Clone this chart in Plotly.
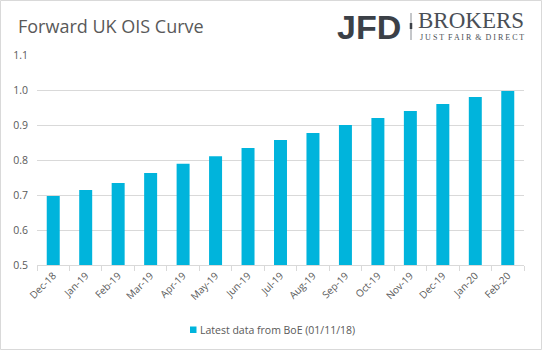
import plotly.graph_objects as go

categories = ["Dec-18", "Jan-19", "Feb-19", "Mar-19", "Apr-19", "May-19", "Jun-19",
              "Jul-19", "Aug-19", "Sep-19", "Oct-19", "Nov-19", "Dec-19", "Jan-20", "Feb-20"]
values = [0.697, 0.714, 0.734, 0.763, 0.789, 0.811, 0.834,
          0.857, 0.877, 0.900, 0.920, 0.940, 0.960, 0.980, 0.997]
series_name = "Latest data from BoE (01/11/18)"
bar_color = "#00B4DC"

W, H = 543, 351
ML, MR, MT, MB = 37, 19, 55, 86
PW, PH = W - ML - MR, H - MT - MB

def px_x(x):
    return (x - ML) / PW

def px_y(y):
    return (H - MB - y) / PH

fig = go.Figure()
fig.add_trace(go.Bar(x=categories, y=values, name=series_name, showlegend=False,
                     marker=dict(color=bar_color, line=dict(width=0))))

fig.update_layout(
    width=W, height=H,
    margin=dict(l=ML, r=MR, t=MT, b=MB),
    paper_bgcolor="white", plot_bgcolor="white",
    bargap=0.6,
    font=dict(family="Open Sans, sans-serif", color="#595959"),
    showlegend=False,
    xaxis=dict(type="category", showgrid=False, showline=True, linecolor="#d9d9d9", linewidth=1,
               ticks="outside", tickson="boundaries", ticklen=5, tickcolor="#d9d9d9",
               tickangle=-45, tickfont=dict(size=10, color="#595959")),
    yaxis=dict(range=[0.5, 1.1], dtick=0.1, tickformat=".1f", showgrid=True,
               gridcolor="#d9d9d9", gridwidth=1, zeroline=False, showline=False,
               tickfont=dict(size=10.5, color="#595959"), ticklabelstandoff=8),
    shapes=[dict(type="rect", xref="paper", yref="paper",
                 x0=px_x(0.5), x1=px_x(541.5), y0=px_y(349.5), y1=px_y(0.5),
                 line=dict(color="#d9d9d9", width=1), fillcolor="rgba(0,0,0,0)", layer="below"),
            # legend swatch
            dict(type="rect", xref="paper", yref="paper",
                 x0=px_x(190), x1=px_x(196.5), y0=px_y(333), y1=px_y(326.5),
                 line=dict(width=0), fillcolor=bar_color),
            # logo separator
            dict(type="line", xref="paper", yref="paper",
                 x0=px_x(411), x1=px_x(411), y0=px_y(13), y1=px_y(40),
                 line=dict(color="#8a8e94", width=1)),
            dict(type="line", xref="paper", yref="paper",
                 x0=px_x(411), x1=px_x(411), y0=px_y(23), y1=px_y(29),
                 line=dict(color="#3b4047", width=2.5))],
    annotations=[
        dict(text="Forward UK OIS Curve", xref="paper", yref="paper", x=px_x(16), y=px_y(26),
             xanchor="left", yanchor="middle", showarrow=False,
             font=dict(size=18, color="#595959", family="Open Sans, sans-serif")),
        dict(text=series_name, xref="paper", yref="paper", x=px_x(198), y=px_y(330),
             xanchor="left", yanchor="middle", showarrow=False,
             font=dict(size=10.5, color="#595959", family="Open Sans, sans-serif")),
        dict(text="<b>JFD</b>", xref="paper", yref="paper", x=px_x(403), y=px_y(27),
             xanchor="right", yanchor="middle", showarrow=False,
             font=dict(size=34, color="#3b4047", family="Liberation Sans Narrow, Liberation Sans, sans-serif")),
        dict(text="BROKERS", xref="paper", yref="paper", x=px_x(416), y=px_y(21),
             xanchor="left", yanchor="middle", showarrow=False,
             font=dict(size=23, color="#4a4f56", family="Liberation Serif, serif")),
        dict(text="J U S T &nbsp;F A I R &nbsp;&amp; &nbsp;D I R E C T", xref="paper", yref="paper",
             x=px_x(418), y=px_y(37.5),
             xanchor="left", yanchor="middle", showarrow=False,
             font=dict(size=8, color="#4a4f56", family="Liberation Serif, serif")),
    ],
)

fig.write_html("out.html")
